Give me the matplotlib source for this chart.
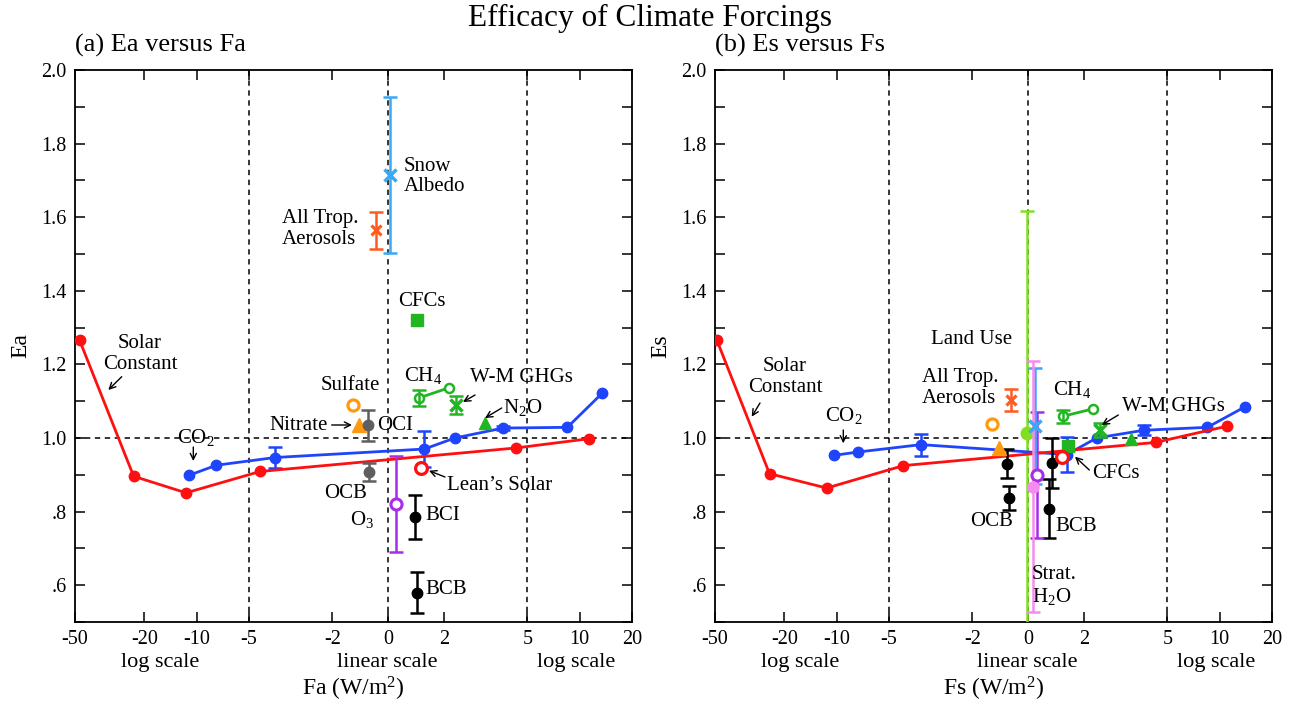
import numpy as np
import matplotlib
matplotlib.use("Agg")
import matplotlib.pyplot as plt

plt.rcParams['font.family'] = ['Liberation Serif', 'DejaVu Serif']
plt.rcParams['mathtext.fontset'] = 'custom'
plt.rcParams['mathtext.rm'] = 'Liberation Serif'
plt.rcParams['mathtext.it'] = 'Liberation Serif:italic'

# ---------------- data: panel (a) Ea versus Fa ----------------
solar_Fa = [-47, -23, -11.5, -4.6, 4.6, 11.3]
solar_Ea = [1.265, 0.896, 0.851, 0.909, 0.973, 0.998]
co2_Fa = [-11.0, -7.7, -4.06, 1.30, 2.40, 4.13, 8.5, 13.5]
co2_Ea = [0.899, 0.926, 0.947, 0.970, 1.000, 1.027, 1.029, 1.122]
co2_Ea_err = [0, 0, 0.028, 0.050, 0, 0.006, 0, 0]
ch4_Fa = [1.11, 2.17]
ch4_Ea = [1.109, 1.136]
ch4_Ea_err = [0.021, 0]
names_a = ['Sulfate', 'Nitrate', 'OCI', 'OCB', 'BCI', 'BCB', 'O3',
           'Snow Albedo', 'All Trop. Aerosols', 'CFCs', "Lean's Solar",
           'N2O', 'W-M GHGs']
other_Fa = [-1.26, -1.03, -0.73, -0.68, 0.95, 1.04, 0.29,
            0.08, -0.42, 1.05, 1.19, 3.48, 2.43]
other_Ea = [1.090, 1.034, 1.034, 0.908, 0.785, 0.580, 0.820,
            1.714, 1.564, 1.321, 0.918, 1.041, 1.090]
other_Ea_err = [0, 0, 0.043, 0.025, 0.060, 0.055, 0.131,
                0.212, 0.050, 0, 0, 0, 0.024]

# ---------------- data: panel (b) Es versus Fs ----------------
solar_Fs = [-48.7, -24.3, -11.4, -4.48, 4.58, 11.0]
solar_Es = [1.265, 0.903, 0.864, 0.925, 0.988, 1.032]
co2_Fs = [-10.3, -7.5, -3.85, 1.39, 2.46, 4.15, 8.5, 13.9]
co2_Es = [0.953, 0.962, 0.982, 0.955, 1.000, 1.021, 1.029, 1.084]
co2_Es_err = [0, 0, 0.030, 0.048, 0, 0.014, 0, 0]
ch4_Fs = [1.25, 2.32]
ch4_Es = [1.059, 1.079]
ch4_Es_err = [0.017, 0]
names_b = ['Sulfate', 'Nitrate', 'OCI', 'OCB', 'BCI', 'BCB', 'O3',
           'Snow Albedo', 'All Trop. Aerosols', 'CFCs', "Lean's Solar",
           'N2O', 'W-M GHGs', 'Land Use', 'Strat. H2O']
other_Fs = [-1.29, -1.05, -0.75, -0.69, 0.85, 0.74, 0.32,
            0.26, -0.60, 1.45, 1.21, 3.68, 2.58, -0.04, 0.18]
other_Es = [1.039, 0.973, 0.930, 0.837, 0.932, 0.808, 0.900,
            1.032, 1.104, 0.979, 0.948, 0.997, 1.023, 1.014, 0.868]
other_Es_err = [0, 0, 0.040, 0.032, 0.068, 0.080, 0.172,
                0.158, 0.030, 0, 0, 0, 0.019, 0.604, 0.340]

xtick_vals = [-50, -20, -10, -5, -2, 0, 2, 5, 10, 20]
xtick_labels = ['-50', '-20', '-10', '-5', '-2', '0', '2', '5', '10', '20']
ytick_vals = [0.6, 0.8, 1.0, 1.2, 1.4, 1.6, 1.8, 2.0]
ytick_labels = ['.6', '.8', '1.0', '1.2', '1.4', '1.6', '1.8', '2.0']

# ---------------- colours / styles ----------------
RED = '#ff1010'
BLUE = '#1f45fc'
GREEN = '#22b522'
ORANGE = '#ff9a10'
AEROS = '#ff5a1f'
SNOW = '#3aa8f5'
PURPLE = '#a82ce8'
PINK = '#f78cf0'
LAND = '#80e020'
GREY = '#5f5f5f'

def style(name, panel):
    oc = GREY if panel == 'a' else 'black'
    s = {
        'Sulfate': dict(marker='o', color=ORANGE, mfc='white', ms=8, mew=2.3),
        'Nitrate': dict(marker='^', color=ORANGE, ms=9.5),
        'OCI': dict(marker='o', color=oc, ms=7.5),
        'OCB': dict(marker='o', color=oc, ms=7.5),
        'BCI': dict(marker='o', color='black', ms=7.5),
        'BCB': dict(marker='o', color='black', ms=7.5),
        'O3': dict(marker='o', color=PURPLE, mfc='white', ms=8, mew=2.2),
        'Snow Albedo': dict(marker='x', color=SNOW, ms=9, mew=2.5),
        'All Trop. Aerosols': dict(marker='x', color=AEROS, ms=7, mew=2.3),
        'CFCs': dict(marker='s', color=GREEN, ms=8.5),
        "Lean's Solar": dict(marker='o', color=RED, mfc='white', ms=8.5, mew=2.3),
        'N2O': dict(marker='^', color=GREEN, ms=9),
        'W-M GHGs': dict(marker='x', color=GREEN, ms=8, mew=2.5),
        'Land Use': dict(marker='o', color=LAND, ms=9),
        'Strat. H2O': dict(marker='o', color=PINK, ms=8),
    }[name]
    return s

K = 6.25

def fwd(x):
    x = np.asarray(x, dtype=float)
    a = np.abs(x)
    return np.where(a <= 5, x, np.sign(x) * (5 + K * np.log10(np.maximum(a, 5) / 5)))

def inv(y):
    y = np.asarray(y, dtype=float)
    a = np.abs(y)
    return np.where(a <= 5, y, np.sign(y) * 5 * 10 ** ((np.maximum(a, 5) - 5) / K))

W, H = 1300, 705
fig = plt.figure(figsize=(W / 100, H / 100), dpi=100)
AX_W, AX_TOP, AX_BOT = 557, 70, 622
ax_a = fig.add_axes([75 / W, (H - AX_BOT) / H, AX_W / W, (AX_BOT - AX_TOP) / H])
ax_b = fig.add_axes([715 / W, (H - AX_BOT) / H, AX_W / W, (AX_BOT - AX_TOP) / H])

FS_ANN = 15


def setup(ax, xlab, ylab, title):
    ax.set_xscale('function', functions=(fwd, inv))
    ax.set_xlim(-50, 20)
    ax.set_ylim(0.5, 2.0)
    ax.set_xticks(xtick_vals)
    ax.set_xticklabels(xtick_labels)
    ax.xaxis.set_minor_locator(matplotlib.ticker.NullLocator())
    ax.set_yticks(ytick_vals)
    ax.set_yticklabels(ytick_labels)
    ax.set_yticks(np.arange(0.5, 2.0, 0.2), minor=True)
    ax.tick_params(axis='both', which='both', direction='in', top=True, right=True,
                   length=7.5, width=1.1, labelsize=14.5, pad=6)
    for sp in ax.spines.values():
        sp.set_linewidth(1.3)
    for xv in (-5, 0, 5):
        ax.axvline(xv, color='black', lw=1.1, ls=(0, (3.5, 3)), zorder=1)
    ax.axhline(1.0, color='black', lw=1.1, ls=(0, (3.5, 3)), zorder=1)
    ax.text(0.153, -0.073, 'log scale', transform=ax.transAxes, ha='center', va='center', fontsize=16)
    ax.text(0.56, -0.073, 'linear scale', transform=ax.transAxes, ha='center', va='center', fontsize=16)
    ax.text(0.90, -0.073, 'log scale', transform=ax.transAxes, ha='center', va='center', fontsize=16)
    ax.text(0.5, -0.121, xlab, transform=ax.transAxes, ha='center', va='center', fontsize=17)
    ax.text(-0.097, 0.5, ylab, transform=ax.transAxes, ha='center', va='center', fontsize=17, rotation=90)
    ax.text(0.0, 1.045, title, transform=ax.transAxes, ha='left', va='center', fontsize=19)


def draw(ax, panel, sF, sE, cF, cE, cErr, hF, hE, hErr, names, oF, oE, oErr):
    ax.plot(cF, cE, '-o', color=BLUE, lw=2, ms=7.5, zorder=4)
    m = np.array(cErr) > 0
    ax.errorbar(np.array(cF)[m], np.array(cE)[m], yerr=np.array(cErr)[m], fmt='none',
                ecolor=BLUE, elinewidth=1.8, capsize=5, capthick=1.8, zorder=4)
    ax.plot(sF, sE, '-o', color=RED, lw=2, ms=7.5, zorder=5)
    ax.plot(hF, hE, '-o', color=GREEN, lw=2, ms=6.5, mfc='white', mew=1.8, zorder=5)
    mh = np.array(hErr) > 0
    ax.errorbar(np.array(hF)[mh], np.array(hE)[mh], yerr=np.array(hErr)[mh], fmt='none',
                ecolor=GREEN, elinewidth=1.8, capsize=5, capthick=1.8, zorder=5)
    for n, f, e, er in zip(names, oF, oE, oErr):
        st = style(n, panel)
        col = st['color']
        z = 3 if n == 'Land Use' else 6
        if er > 0:
            ax.errorbar([f], [e], yerr=[er], fmt='none', ecolor=col, elinewidth=1.8,
                        capsize=5, capthick=1.8, zorder=z)
        ax.plot([f], [e], linestyle='none', zorder=z + 0.5, **st)


draw(ax_a, 'a', solar_Fa, solar_Ea, co2_Fa, co2_Ea, co2_Ea_err, ch4_Fa, ch4_Ea, ch4_Ea_err,
     names_a, other_Fa, other_Ea, other_Ea_err)
draw(ax_b, 'b', solar_Fs, solar_Es, co2_Fs, co2_Es, co2_Es_err, ch4_Fs, ch4_Es, ch4_Es_err,
     names_b, other_Fs, other_Es, other_Es_err)

setup(ax_a, 'Fa (W/m$^2$)', 'Ea', '(a) Ea versus Fa')
setup(ax_b, 'Fs (W/m$^2$)', 'Es', '(b) Es versus Fs')


def pos(x0, x, y):
    return ((x - x0) / AX_W, (AX_BOT - y) / (AX_BOT - AX_TOP))


def label(ax, x0, x, y, s, ha='center'):
    ax.text(*pos(x0, x, y), s, transform=ax.transAxes, ha=ha, va='center',
            fontsize=FS_ANN, multialignment='left' if ha == 'left' else 'center',
            linespacing=1.1, zorder=10)


def arrow(ax, x0, tail, head):
    ax.annotate('', xy=pos(x0, *head), xytext=pos(x0, *tail), xycoords='axes fraction',
                textcoords='axes fraction',
                arrowprops=dict(arrowstyle='->', lw=1.0, color='black', shrinkA=0, shrinkB=0,
                                mutation_scale=11), zorder=10)

# panel (a) labels
A = 75
label(ax_a, A, 140, 354, 'Solar\nConstant')
arrow(ax_a, A, (121.7, 376.7), (108.3, 390))
label(ax_a, A, 196, 437, 'CO$_2$')
arrow(ax_a, A, (193.3, 447), (193.3, 461))
label(ax_a, A, 350, 386, 'Sulfate')
label(ax_a, A, 299, 425, 'Nitrate')
arrow(ax_a, A, (331.7, 425), (352, 425))
label(ax_a, A, 377, 425, 'OCI', ha='left')
label(ax_a, A, 346, 493, 'OCB')
label(ax_a, A, 362, 520, 'O$_3$')
label(ax_a, A, 425, 515, 'BCI', ha='left')
label(ax_a, A, 425, 590, 'BCB', ha='left')
label(ax_a, A, 500, 485, 'Lean\u2019s Solar')
arrow(ax_a, A, (445, 477), (429, 470.7))
label(ax_a, A, 503, 407, 'N$_2$O', ha='left')
arrow(ax_a, A, (501.7, 408), (485, 418))
label(ax_a, A, 470, 378, 'W-M GHGs', ha='left')
arrow(ax_a, A, (475, 395), (463, 402))
label(ax_a, A, 423, 375, 'CH$_4$')
label(ax_a, A, 421.7, 301.7, 'CFCs')
label(ax_a, A, 404, 176.5, 'Snow\nAlbedo', ha='left')
label(ax_a, A, 281.7, 229, 'All Trop.\nAerosols', ha='left')

# panel (b) labels
B = 715
label(ax_b, B, 785, 377, 'Solar\nConstant')
arrow(ax_b, B, (760, 403), (751.7, 416.7))
label(ax_b, B, 844, 415, 'CO$_2$')
arrow(ax_b, B, (843.3, 430), (843.3, 443.3))
label(ax_b, B, 971.7, 340, 'Land Use')
label(ax_b, B, 921.7, 388, 'All Trop.\nAerosols', ha='left')
label(ax_b, B, 991.7, 521.7, 'OCB')
label(ax_b, B, 1055, 526.7, 'BCB', ha='left')
label(ax_b, B, 1031.7, 586, 'Strat.\nH$_2$O', ha='left')
label(ax_b, B, 1072, 390, 'CH$_4$')
label(ax_b, B, 1121.7, 406.7, 'W-M GHGs', ha='left')
arrow(ax_b, B, (1118.3, 415), (1101.7, 425))
label(ax_b, B, 1091.7, 473.3, 'CFCs', ha='left')
arrow(ax_b, B, (1089.3, 470), (1075, 456.7))

fig.text(0.5, 1 - 18 / H, 'Efficacy of Climate Forcings', ha='center', va='center', fontsize=22.5)

fig.savefig('out.png', dpi=100)
